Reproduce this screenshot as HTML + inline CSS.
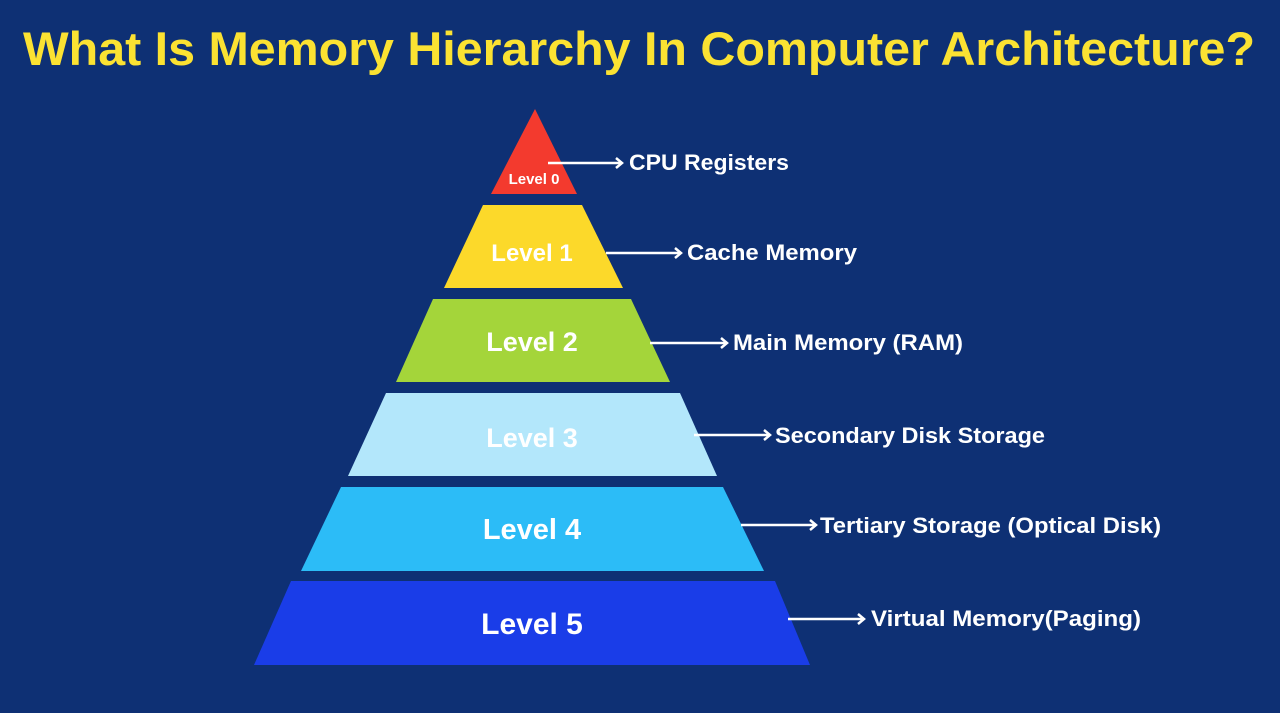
<!DOCTYPE html>
<html><head><meta charset="utf-8"><style>
html,body{margin:0;padding:0;background:#0e3074;}
svg{display:block;}
text{font-family:"Liberation Sans",Arial,sans-serif;font-weight:bold;}
</style></head><body>
<svg width="1280" height="713" viewBox="0 0 1280 713">
<rect width="1280" height="713" fill="#0e3074"/>
<text x="23" y="65" font-size="47" fill="#fbe232" textLength="1232" lengthAdjust="spacingAndGlyphs">What Is Memory Hierarchy In Computer Architecture?</text>
<defs><marker id="a" markerWidth="12" markerHeight="12" refX="9" refY="6" orient="auto" markerUnits="userSpaceOnUse"><path d="M3,1 L9,6 L3,11" fill="none" stroke="#fff" stroke-width="2.5"/></marker></defs>
<polygon points="535,109 577,194 491,194" fill="#f33a2e"/>
<polygon points="483,205 582,205 623,288 444,288" fill="#fcd92a"/>
<polygon points="433,299 631,299 670,382 396,382" fill="#a4d53a"/>
<polygon points="386,393 680,393 717,476 348,476" fill="#b3e7fb"/>
<polygon points="341,487 723,487 764,571 301,571" fill="#2cbcf7"/>
<polygon points="291,581 775,581 810,665 254,665" fill="#1a3de8"/>
<g fill="#fff" text-anchor="middle">
<text x="534" y="184" font-size="15">Level 0</text>
<text x="532" y="261" font-size="24">Level 1</text>
<text x="532" y="351" font-size="27">Level 2</text>
<text x="532" y="447" font-size="27">Level 3</text>
<text x="532" y="539" font-size="29">Level 4</text>
<text x="532" y="634" font-size="30">Level 5</text>
</g>
<g stroke="#fff" stroke-width="2.5" marker-end="url(#a)">
<line x1="548" y1="163" x2="622" y2="163"/>
<line x1="606" y1="253" x2="681" y2="253"/>
<line x1="650" y1="343" x2="727" y2="343"/>
<line x1="694" y1="435" x2="770" y2="435"/>
<line x1="741" y1="525" x2="816" y2="525"/>
<line x1="788" y1="619" x2="864" y2="619"/>
</g>
<g fill="#fff" font-size="22">
<text x="629" y="170" textLength="160" lengthAdjust="spacingAndGlyphs">CPU Registers</text>
<text x="687" y="260" textLength="170" lengthAdjust="spacingAndGlyphs">Cache Memory</text>
<text x="733" y="350" textLength="230" lengthAdjust="spacingAndGlyphs">Main Memory (RAM)</text>
<text x="775" y="443" textLength="270" lengthAdjust="spacingAndGlyphs">Secondary Disk Storage</text>
<text x="820" y="533" textLength="341" lengthAdjust="spacingAndGlyphs">Tertiary Storage (Optical Disk)</text>
<text x="871" y="626" textLength="270" lengthAdjust="spacingAndGlyphs">Virtual Memory(Paging)</text>
</g>
</svg>
</body></html>
